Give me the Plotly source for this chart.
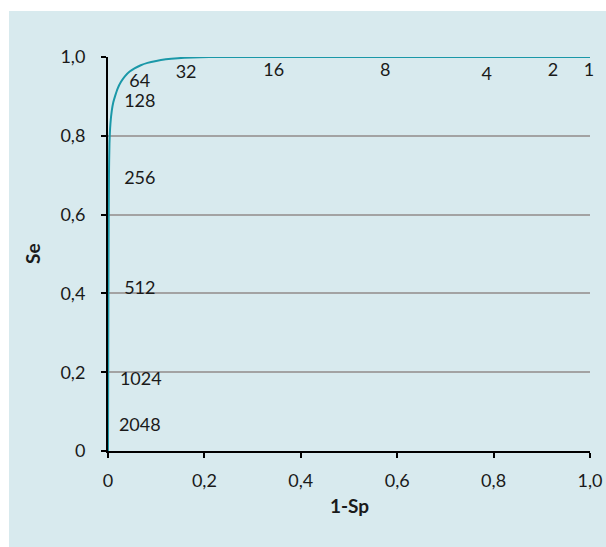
import plotly.graph_objects as go

# ROC curve: false positive rate (1-Sp) vs sensitivity (Se)
fpr = [0, 0.0005, 0.001, 0.0015, 0.002, 0.003, 0.005, 0.008, 0.011, 0.015, 0.02,
       0.027, 0.035, 0.045, 0.055, 0.068, 0.082, 0.1, 0.12, 0.145, 0.175, 0.21,
       0.26, 0.4, 0.6, 0.8, 1.0]
tpr = [0, 0.25, 0.45, 0.6, 0.7, 0.78, 0.83, 0.865, 0.885, 0.902, 0.92,
       0.937, 0.951, 0.963, 0.971, 0.979, 0.985, 0.990, 0.994, 0.997, 0.999, 1.0,
       1.0, 1.0, 1.0, 1.0, 1.0]

# cut-off values and where their labels sit
cutoffs = ["2048", "1024", "512", "256", "128", "64", "32", "16", "8", "4", "2", "1"]
cut_x = [0.066, 0.068, 0.066, 0.066, 0.066, 0.066, 0.162, 0.344, 0.575, 0.786, 0.923, 0.998]
cut_y = [0.062, 0.18, 0.41, 0.69, 0.885, 0.936, 0.959, 0.963, 0.963, 0.952, 0.962, 0.962]

tick_vals = [0, 0.2, 0.4, 0.6, 0.8, 1.0]
tick_text = ["0", "0,2", "0,4", "0,6", "0,8", "1,0"]

BG = "#d8eaee"
FONT = "Lato"

fig = go.Figure()
fig.add_trace(go.Scatter(
    x=fpr, y=tpr, mode="lines",
    line=dict(color="#1a98a8", width=2, shape="spline", smoothing=0.6),
    hoverinfo="skip", showlegend=False,
))
fig.add_trace(go.Scatter(
    x=cut_x, y=cut_y, mode="text", text=cutoffs,
    textfont=dict(family=FONT, size=18, color="#1a1a1a"),
    textposition="middle center",
    hoverinfo="skip", showlegend=False, cliponaxis=False,
))

W, H = 606, 547
L, R, T, B = 108, 16, 57, 96
pw, ph = W - L - R, H - T - B

# white strips along the left and top edges of the light-blue page
fig.add_shape(
    type="rect", xref="paper", yref="paper", layer="below",
    x0=-L / pw - 0.05, x1=(9 - L) / pw,
    y0=-B / ph - 0.05, y1=(H - B) / ph + 0.05,
    fillcolor="white", line=dict(width=0),
)
fig.add_shape(
    type="rect", xref="paper", yref="paper", layer="below",
    x0=-L / pw - 0.05, x1=(W - L) / pw + 0.05,
    y0=(H - B - 11) / ph, y1=(H - B) / ph + 0.05,
    fillcolor="white", line=dict(width=0),
)

axis_common = dict(
    range=[0, 1], tickvals=tick_vals, ticktext=tick_text,
    zeroline=False, automargin=False,
    showline=True, linecolor="black", linewidth=2,
    ticks="outside", ticklen=5, tickwidth=2, tickcolor="black",
    tickfont=dict(family=FONT, size=18, color="#1a1a1a"),
    layer="below traces",
)

fig.update_layout(
    width=W, height=H, autosize=False,
    margin=dict(l=L, r=R, t=T, b=B, autoexpand=False),
    paper_bgcolor=BG, plot_bgcolor=BG,
    font=dict(family=FONT, size=18, color="#1a1a1a"),
    xaxis=dict(showgrid=False, ticklabelstandoff=7, **axis_common),
    yaxis=dict(showgrid=True, gridcolor="#a3a3a3", gridwidth=2,
               ticklabelstandoff=12, **axis_common),
    annotations=[
        dict(text="<b>Se</b>", xref="paper", yref="paper",
             x=(32 - L) / pw, y=0.5, xanchor="center", yanchor="middle",
             textangle=-90, showarrow=False,
             font=dict(family=FONT, size=19)),
        dict(text="<b>1-Sp</b>", xref="paper", yref="paper",
             x=0.5, y=-(506 - (H - B)) / ph, xanchor="center", yanchor="middle",
             showarrow=False, font=dict(family=FONT, size=19)),
    ],
)

# keep the page exactly the size of the figure (no scrollbars)
page_css = (
    "document.documentElement.style.overflow='hidden';"
    "document.body.style.margin='0';"
    "document.body.style.overflow='hidden';"
    "document.body.style.background='" + BG + "';"
)
fig.write_html("out.html", post_script=page_css)
